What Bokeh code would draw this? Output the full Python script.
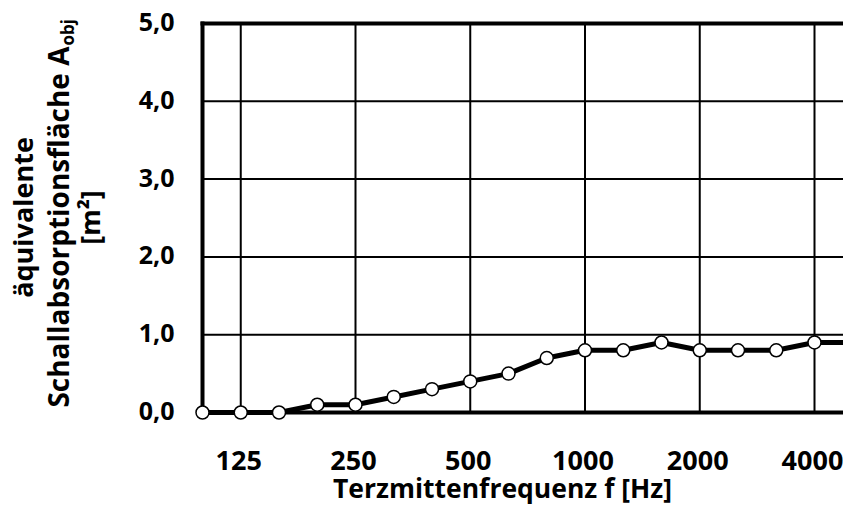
from math import pi
from bokeh.plotting import figure
from bokeh.models import Range1d, Label
from bokeh.core.properties import value
from bokeh.embed import file_html
from bokeh.resources import INLINE

# Third-octave band centre frequencies [Hz]
freqs = ["100", "125", "160", "200", "250", "315", "400", "500", "630",
         "800", "1000", "1250", "1600", "2000", "2500", "3150", "4000", "5000"]
# equivalent sound absorption area A_obj [m²]
absorption = [0.0, 0.0, 0.0, 0.1, 0.1, 0.2, 0.3, 0.4, 0.5,
              0.7, 0.8, 0.8, 0.9, 0.8, 0.8, 0.8, 0.9, 0.9]
x_tick_labels = ["125", "250", "500", "1000", "2000", "4000"]
y_ticks = [0, 1, 2, 3, 4, 5]
y_tick_labels = ["0,0", "1,0", "2,0", "3,0", "4,0", "5,0"]

idx = list(range(len(freqs)))
x_tick_pos = [freqs.index(t) for t in x_tick_labels]
x_first, x_last = idx[0], idx[-1]
y_lo, y_hi = y_ticks[0], y_ticks[-1]

FONT = "Open Sans"

# pixel geometry: the frame covers the whole canvas
W, H = 843, 508
px_per_x = 38.25          # pixels per third-octave band
px_per_y = 77.8           # pixels per m²
axis_x_px, axis_y_px = 202, 412   # canvas position of (100 Hz, 0 m²)

x_range = Range1d(x_first - axis_x_px / px_per_x, x_first + (W - axis_x_px) / px_per_x)
y_range = Range1d(y_lo - (H - axis_y_px) / px_per_y, y_lo + axis_y_px / px_per_y)

p = figure(width=W, height=H, output_backend="svg", toolbar_location=None,
           x_range=x_range, y_range=y_range,
           x_axis_location=None, y_axis_location=None,
           min_border=0, min_border_left=0, min_border_right=0,
           min_border_top=0, min_border_bottom=0)
p.outline_line_color = None
p.xgrid.visible = False
p.ygrid.visible = False

# grid lines
inner_y = y_ticks[1:-1]
p.segment(x0=x_tick_pos, y0=[y_lo] * len(x_tick_pos), x1=x_tick_pos, y1=[y_hi] * len(x_tick_pos),
          line_color="black", line_width=2)
p.segment(x0=[x_first] * len(inner_y), y0=inner_y, x1=[x_last] * len(inner_y), y1=inner_y,
          line_color="black", line_width=2)

# frame lines: left, bottom, top
p.segment(x0=[x_first, x_first, x_first], y0=[y_lo, y_lo, y_hi],
          x1=[x_first, x_last, x_last], y1=[y_hi, y_lo, y_hi],
          line_color="black", line_width=4, line_cap="square")

# data
p.line(idx, absorption, line_color="black", line_width=5)
p.scatter(idx, absorption, size=13, fill_color="white", line_color="black", line_width=1.5)

# tick labels, positioned by the plot's scales
x_lab_y = y_lo - 48 / px_per_y
p.text(x=[t - 2 / px_per_x for t in x_tick_pos], y=[x_lab_y] * len(x_tick_pos), text=x_tick_labels,
       text_align="center", text_baseline="alphabetic",
       text_font=value(FONT), text_font_style="bold", text_font_size="27px",
       text_color="black")
y_lab_x = x_first - 28 / px_per_x
p.text(x=[y_lab_x] * len(y_ticks), y=[t + 1.5 / px_per_y for t in y_ticks], text=y_tick_labels,
       text_align="right", text_baseline="alphabetic",
       text_font=value(FONT), text_font_style="bold", text_font_size="25px",
       text_color="black")

# axis titles (screen units: from the canvas' bottom-left corner)
def lab(text, cx, cy, size, align="center", angle=0.0):
    p.add_layout(Label(text=text, x=cx, y=H - cy,
                       x_units="screen", y_units="screen",
                       angle=angle, text_align=align, text_baseline="alphabetic",
                       text_font=FONT, text_font_style="bold",
                       text_font_size=size, text_color="black"))

lab("äquivalente", 21.5, 217, "27px", "center", pi / 2)
lab("Schallabsorptionsfläche A", 57, 46, "28px", "right", pi / 2)
lab("obj", 67, 45, "17px", "left", pi / 2)
lab("[m²]", 88.5, 217, "27px", "center", pi / 2)
lab("Terzmittenfrequenz f [Hz]", 502, 487, "26.5px", "center")

open("out.html", "w").write(file_html(p, INLINE))
